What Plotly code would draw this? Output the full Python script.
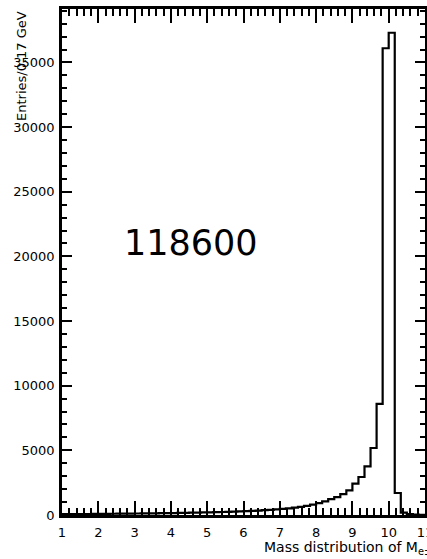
import plotly.graph_objects as go

# Histogram: 60 bins from 1 to 11 GeV (bin width 1/6 ~ 0.17 GeV)
x_min = 1.0
x_max = 11.0
n_bins = 60
counts = [
    60, 65, 70, 72, 78, 82, 85, 90, 95, 100,
    105, 110, 115, 120, 126, 132, 138, 145, 152, 160,
    168, 176, 186, 196, 207, 219, 232, 246, 262, 280,
    300, 322, 346, 372, 400, 432, 468, 510, 565, 625,
    700, 800, 920, 1060, 1230, 1390, 1620, 1900, 2420, 2940,
    3760, 5180, 8600, 36100, 37300, 1700, 180, 60, 30, 20,
]
entries_label = "118600"
y_title = "Entries/0.17 GeV"
x_title = "Mass distribution of M<sub>e±μ∓</sub>"
x_ticks = list(range(1, 12))
y_ticks = [0, 5000, 10000, 15000, 20000, 25000, 30000, 35000]
y_max = 39135

width = (x_max - x_min) / n_bins
edges = [x_min + i * width for i in range(n_bins + 1)]
ys = counts + [counts[-1]]

fig = go.Figure()
fig.add_trace(go.Scatter(
    x=edges, y=ys, mode="lines", line=dict(shape="hv", color="black", width=2.2),
    showlegend=False, hoverinfo="skip",
))
# invisible trace to activate the mirrored (top/right) tick axes
fig.add_trace(go.Scatter(
    x=[x_min], y=[0], mode="lines", line=dict(width=0), xaxis="x2", yaxis="y2",
    showlegend=False, hoverinfo="skip",
))

tickfont = dict(family="DejaVu Sans", size=13, color="black")
xminor = dict(dtick=0.2, ticks="inside", ticklen=7, tickwidth=2, tickcolor="black", showgrid=False)
yminor = dict(dtick=1000, ticks="inside", ticklen=5, tickwidth=2, tickcolor="black", showgrid=False)

fig.update_layout(
    xaxis=dict(
        range=[x_min, x_max], showgrid=False, zeroline=False, automargin=False,
        showline=True, linecolor="black", linewidth=2.5, mirror=True,
        ticks="inside", ticklen=14, tickwidth=2, tickcolor="black",
        tickvals=x_ticks, ticktext=[str(v) for v in x_ticks], tickfont=tickfont,
        ticklabelstandoff=4, ticklabeloverflow="allow",
        minor=xminor,
    ),
    yaxis=dict(
        range=[0, y_max], showgrid=False, zeroline=False, automargin=False,
        showline=True, linecolor="black", linewidth=2.5, mirror=True,
        ticks="inside", ticklen=10, tickwidth=2, tickcolor="black",
        tickvals=y_ticks, ticktext=[str(v) for v in y_ticks], tickfont=tickfont,
        ticklabelstandoff=2,
        minor=yminor,
    ),
    xaxis2=dict(
        range=[x_min, x_max], overlaying="x", side="top", anchor="y", automargin=False,
        showgrid=False, zeroline=False, showline=False,
        ticks="inside", ticklen=14, tickwidth=2, tickcolor="black",
        tickvals=x_ticks, showticklabels=False, minor=xminor,
    ),
    yaxis2=dict(
        range=[0, y_max], overlaying="y", side="right", anchor="x", automargin=False,
        showgrid=False, zeroline=False, showline=False,
        ticks="inside", ticklen=10, tickwidth=2, tickcolor="black",
        tickvals=y_ticks, showticklabels=False, minor=yminor,
    ),
)

fig.add_annotation(
    text=entries_label, xref="paper", yref="paper", x=0.355, y=0.5375,
    xanchor="center", yanchor="middle", showarrow=False,
    font=dict(family="DejaVu Sans", size=35, color="black"),
)
fig.add_annotation(
    text=y_title, xref="paper", yref="paper", x=-0.113, y=1.0,
    xanchor="center", yanchor="top", textangle=-90, showarrow=False,
    font=dict(family="DejaVu Sans", size=13, color="black"),
)
fig.add_annotation(
    text=x_title, xref="paper", yref="paper", x=0.551, y=-0.066,
    xanchor="left", yanchor="middle", showarrow=False,
    font=dict(family="DejaVu Sans", size=14, color="black"),
)

fig.update_layout(
    width=427, height=559,
    margin=dict(l=62, r=2, t=9, b=44),
    paper_bgcolor="white", plot_bgcolor="white",
)
fig.write_html("out.html")
